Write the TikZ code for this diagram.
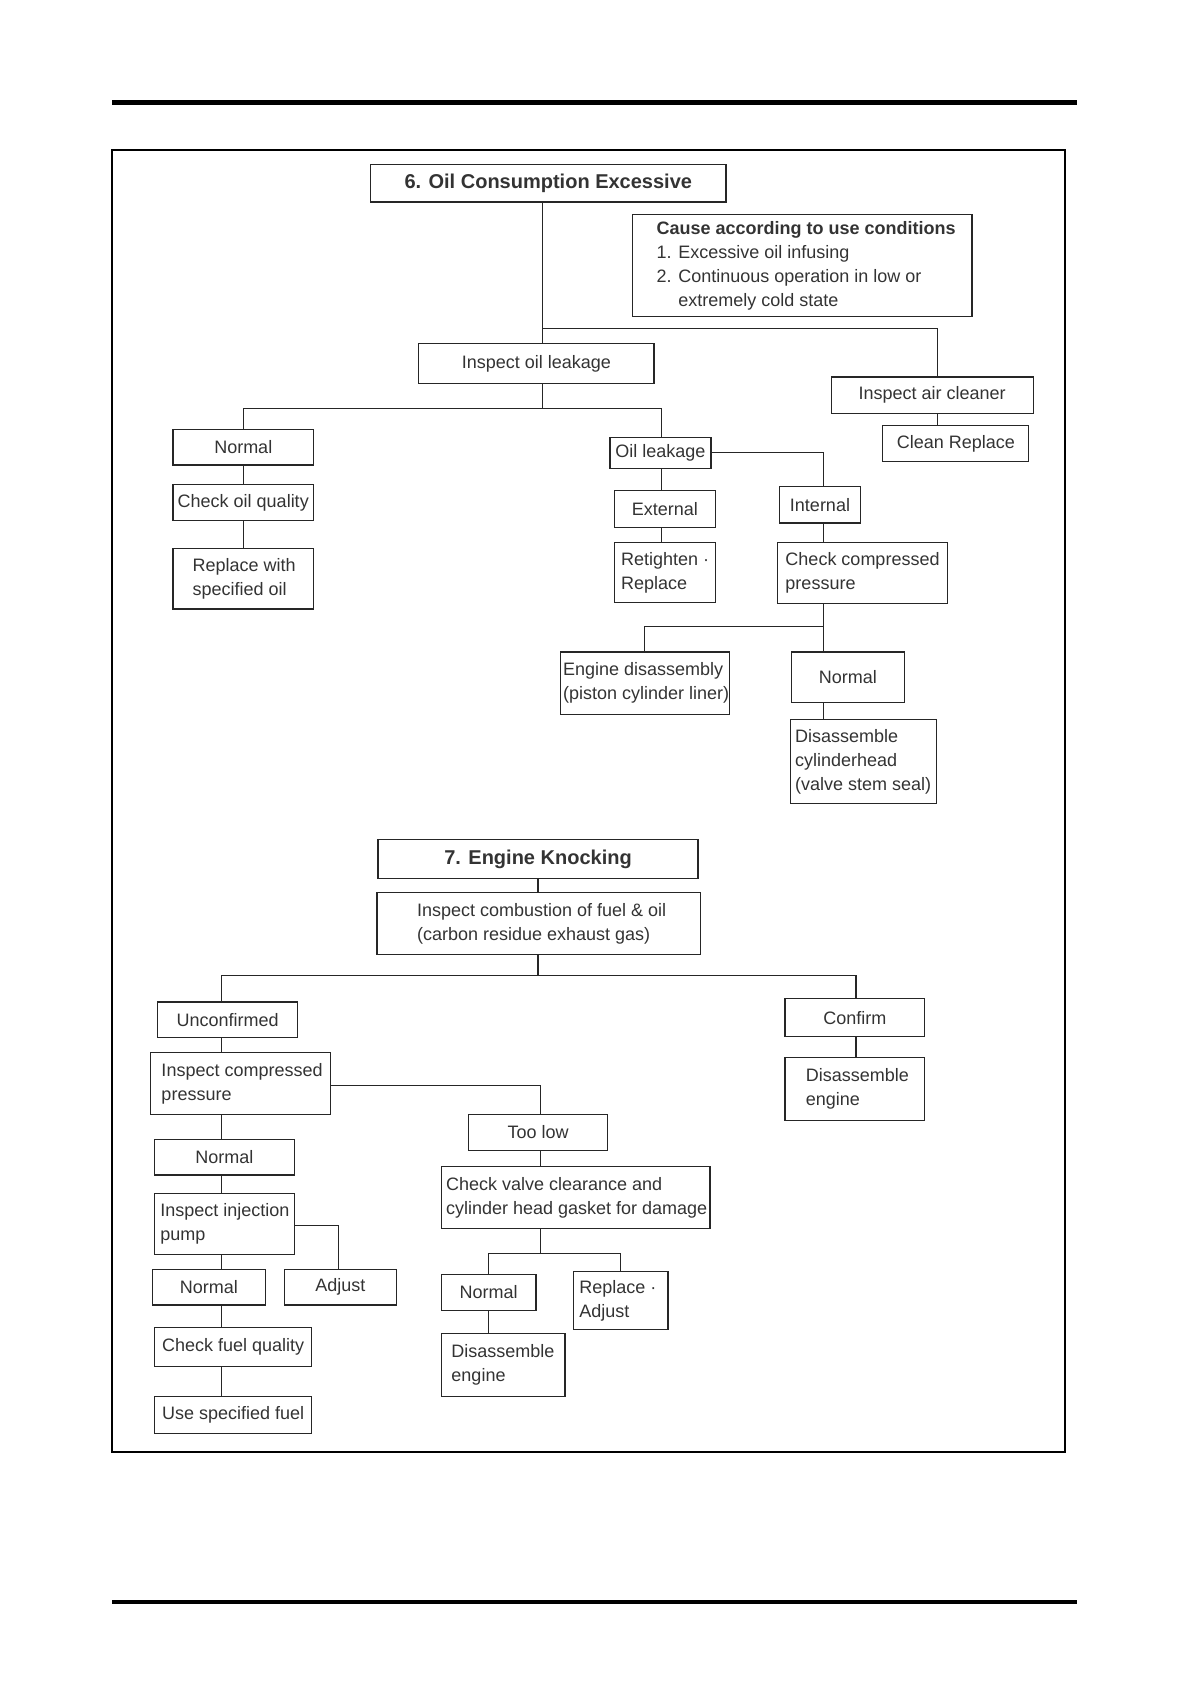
\documentclass[tikz,border=0pt]{standalone}
\usepackage{fontspec}
\setmainfont{Liberation Sans}
\begin{document}
\begin{tikzpicture}[x=0.53695pt,y=-0.53695pt,
  box/.style={draw=black!85, line width=0.6pt, inner sep=0pt, text=black!80,
    font=\fontsize{9}{12}\selectfont, align=center},
  txt/.style={inner sep=0pt, text=black!80, font=\fontsize{9}{12}\selectfont, align=left},
  ttl/.style={font=\bfseries\fontsize{10}{12}\selectfont},
  ln/.style={draw=black!85, line width=0.6pt}]
\newcommand\cbox[7][]{%
  \pgfmathsetlengthmacro\bw{(#5-#3)*0.53695pt}%
  \pgfmathsetlengthmacro\bh{(#6-#4)*0.53695pt}%
  \node[box, minimum width=\bw, minimum height=\bh, #1] (#2) at ({(#3+#5)/2},{(#4+#6)/2}) {#7};}
\newcommand\lbox[7]{%
  \pgfmathsetlengthmacro\bw{(#4-#2)*0.53695pt}%
  \pgfmathsetlengthmacro\bh{(#5-#3)*0.53695pt}%
  \node[box, minimum width=\bw, minimum height=\bh] (#1) at ({(#2+#4)/2},{(#3+#5)/2}) {};
  \node[txt, anchor=west] (#1-t) at (#6,{(#3+#5)/2}) {#7};}
\useasboundingbox (0,0) rectangle (1109,1568);
% page rules and frame
\fill[black] (104,93.1) rectangle (1003,97.5);
\fill[black] (104,1489.8) rectangle (1003,1493.6);
\draw[line width=1pt] (104,140) rectangle (992,1352);
% ---- Section 6 ----
\cbox[ttl]{t6}{345}{153}{676}{188}{6. Oil Consumption Excessive}
\lbox{cause}{589}{200}{905}{295}{611}{\textbf{Cause according to use conditions}\\1. Excessive oil infusing\\2. Continuous operation in low or\\\phantom{2. }extremely cold state}
\cbox{ileak}{390}{320}{609}{357}{Inspect oil leakage}
\cbox{aircl}{774}{351}{962}{385}{Inspect air cleaner}
\cbox{clean}{822}{396}{958}{430}{Clean Replace}
\cbox{n1}{161}{400}{292}{433}{Normal}
\cbox{chkoil}{161}{451}{292}{485}{Check oil quality}
\lbox{repoil}{161}{511}{292}{567}{179}{Replace with\\specified oil}
\cbox{oleak}{568}{407}{662}{436}{Oil leakage}
\cbox{ext}{572}{457}{666}{491}{External}
\lbox{ret}{572}{505}{666}{561}{578}{Retighten ·\\Replace}
\cbox{int}{726}{453}{801}{487}{Internal}
\lbox{ccp}{724}{505}{882}{562}{731}{Check compressed\\pressure}
\lbox{engdis}{522}{607}{679}{665}{524}{Engine disassembly\\(piston cylinder liner)}
\cbox{n2}{737}{607}{842}{654}{Normal}
\lbox{discyl}{736}{670}{872}{748}{740}{Disassemble\\cylinderhead\\(valve stem seal)}
% connectors 6
\coordinate (j1) at (505,306);
\coordinate (j2) at (873,306);
\draw[ln] (j1 |- t6.south) -- (j1 |- ileak.north);
\draw[ln] (j1) -- (j2) -- (j2 |- aircl.north);
\draw[ln] (j2 |- aircl.south) -- (j2 |- clean.north);
\coordinate (j3) at (505,380);
\coordinate (j4) at (227,380);
\coordinate (j5) at (616,380);
\draw[ln] (j3 |- ileak.south) -- (j3);
\draw[ln] (j4 |- n1.north) -- (j4) -- (j5) -- (j5 |- oleak.north);
\draw[ln] (j4 |- n1.south) -- (j4 |- chkoil.north);
\draw[ln] (j4 |- chkoil.south) -- (j4 |- repoil.north);
\draw[ln] (j5 |- oleak.south) -- (j5 |- ext.north);
\draw[ln] (j5 |- ext.south) -- (j5 |- ret.north);
\coordinate (j6) at (767,421);
\draw[ln] (oleak.east) -| (j6 |- int.north);
\draw[ln] (j6 |- int.south) -- (j6 |- ccp.north);
\coordinate (j7) at (767,583);
\coordinate (j8) at (600,583);
\draw[ln] (j7 |- ccp.south) -- (j7 |- n2.north);
\draw[ln] (j7) -- (j8) -- (j8 |- engdis.north);
\draw[ln] (j7 |- n2.south) -- (j7 |- discyl.north);
% ---- Section 7 ----
\cbox[ttl]{t7}{352}{782}{650}{818}{7. Engine Knocking}
\lbox{icomb}{351}{831}{652}{889}{388}{Inspect combustion of fuel \& oil\\(carbon residue exhaust gas)}
\cbox{unconf}{147}{933}{277}{966}{Unconfirmed}
\cbox{confirm}{731}{930}{861}{965}{Confirm}
\lbox{disengR}{731}{985}{861}{1043}{750}{Disassemble\\engine}
\lbox{icp}{140}{980}{308}{1038}{150}{Inspect compressed\\pressure}
\cbox{toolow}{436}{1038}{566}{1071}{Too low}
\lbox{cvc}{411}{1086}{661}{1144}{415}{Check valve clearance and\\cylinder head gasket for damage}
\cbox{n4}{411}{1187}{499}{1220}{Normal}
\lbox{repadj}{534}{1184}{622}{1238}{539}{Replace ·\\Adjust}
\lbox{disengB}{411}{1242}{526}{1300}{420}{Disassemble\\engine}
\cbox{n3}{144}{1061}{274}{1094}{Normal}
\lbox{iip}{144}{1111}{274}{1168}{149}{Inspect injection\\pump}
\cbox{n5}{142}{1182}{247}{1215}{Normal}
\cbox{adjust}{265}{1182}{369}{1215}{Adjust}
\cbox{cfq}{144}{1236}{290}{1272}{Check fuel quality}
\cbox{usf}{144}{1300}{290}{1335}{Use specified fuel}
% connectors 7
\coordinate (k1) at (501,908);
\coordinate (k2) at (206,908);
\coordinate (k3) at (797,908);
\draw[ln] (k1 |- t7.south) -- (k1 |- icomb.north);
\draw[ln] (k1 |- icomb.south) -- (k1);
\draw[ln] (k2 |- unconf.north) -- (k2) -- (k3) -- (k3 |- confirm.north);
\draw[ln] (k3 |- confirm.south) -- (k3 |- disengR.north);
\draw[ln] (k2 |- unconf.south) -- (k2 |- icp.north);
\coordinate (k4) at (503,1011);
\draw[ln] (icp.east |- k4) -- (k4) -- (k4 |- toolow.north);
\draw[ln] (k4 |- toolow.south) -- (k4 |- cvc.north);
\coordinate (k5) at (503,1167);
\coordinate (k6) at (455,1167);
\coordinate (k7) at (578,1167);
\draw[ln] (k5 |- cvc.south) -- (k5);
\draw[ln] (k6 |- n4.north) -- (k6) -- (k7) -- (k7 |- repadj.north);
\draw[ln] (k6 |- n4.south) -- (k6 |- disengB.north);
\draw[ln] (k2 |- icp.south) -- (k2 |- n3.north);
\draw[ln] (k2 |- n3.south) -- (k2 |- iip.north);
\coordinate (k8) at (315,1141);
\draw[ln] (iip.east |- k8) -- (k8) -- (k8 |- adjust.north);
\draw[ln] (k2 |- iip.south) -- (k2 |- n5.north);
\draw[ln] (k2 |- n5.south) -- (k2 |- cfq.north);
\draw[ln] (k2 |- cfq.south) -- (k2 |- usf.north);
\end{tikzpicture}
\end{document}
